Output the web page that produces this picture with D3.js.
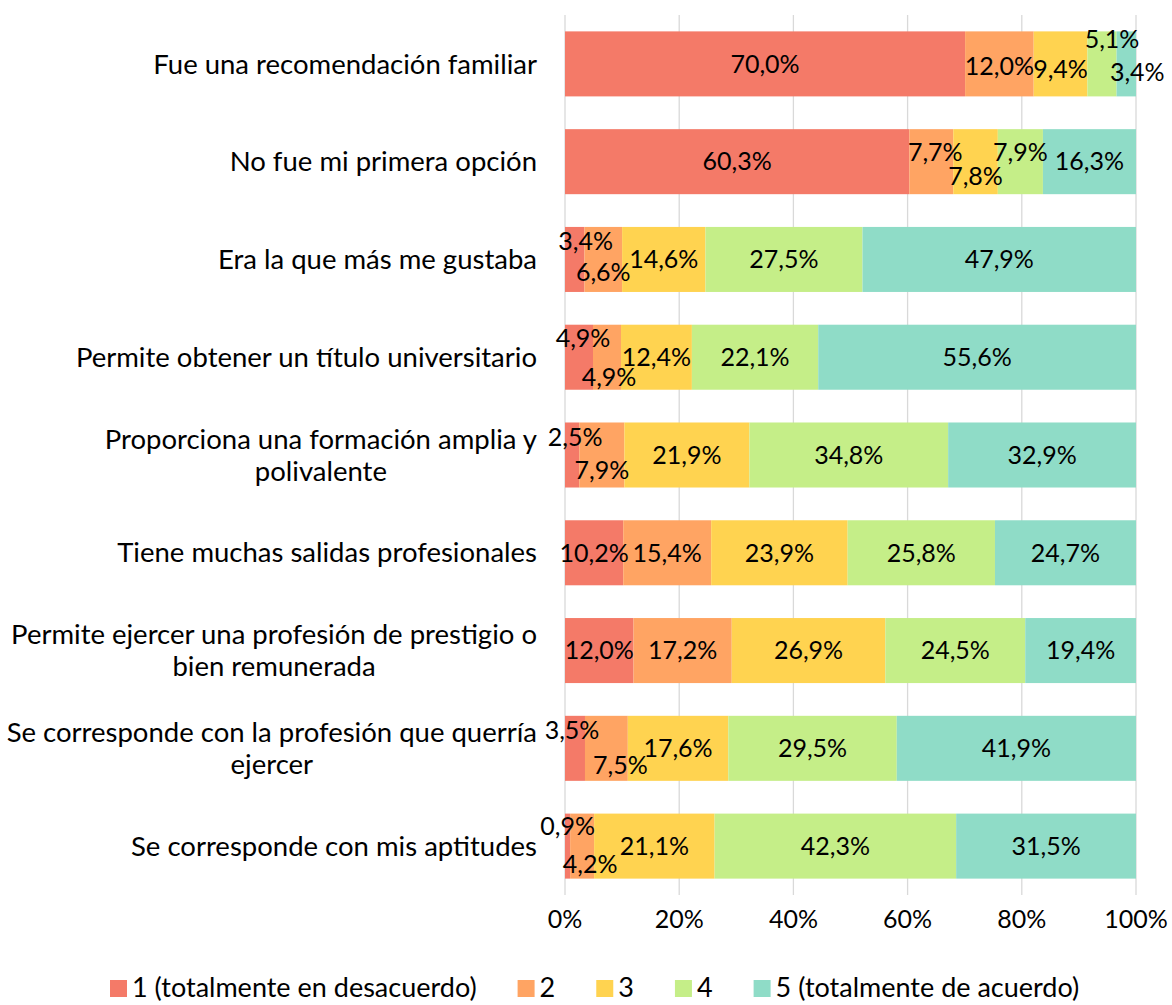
<!DOCTYPE html>
<html>
<head>
<meta charset="utf-8">
<script src="https://cdn.jsdelivr.net/npm/d3@7"></script>
<style>
  body { margin: 0; background: #fff; }
  text { font-family: Lato, "Noto Sans", sans-serif; fill: #000; }
</style>
</head>
<body>
<div id="chart"></div>
<script>
// Chart data
var categories = [
  "Fue una recomendación familiar",
  "No fue mi primera opción",
  "Era la que más me gustaba",
  "Permite obtener un título universitario",
  "Proporciona una formación amplia y\npolivalente",
  "Tiene muchas salidas profesionales",
  "Permite ejercer una profesión de prestigio o\nbien remunerada",
  "Se corresponde con la profesión que querría\nejercer",
  "Se corresponde con mis aptitudes"
];
var seriesNames = ["1 (totalmente en desacuerdo)", "2", "3", "4", "5 (totalmente de acuerdo)"];
var s1 = [70.0, 60.3, 3.4, 4.9, 2.5, 10.2, 12.0, 3.5, 0.9];
var s2 = [12.0, 7.7, 6.6, 4.9, 7.9, 15.4, 17.2, 7.5, 4.2];
var s3 = [9.4, 7.8, 14.6, 12.4, 21.9, 23.9, 26.9, 17.6, 21.1];
var s4 = [5.1, 7.9, 27.5, 22.1, 34.8, 25.8, 24.5, 29.5, 42.3];
var s5 = [3.4, 16.3, 47.9, 55.6, 32.9, 24.7, 19.4, 41.9, 31.5];
var xTicks = [0, 0.2, 0.4, 0.6, 0.8, 1];

var colors = ["#F47A68", "#FFA463", "#FFD350", "#C5EE88", "#8FDCC7"];

// manual nudges of overlapping data labels  "row-series": [dx, dy]
var labelNudge = {
  "0-1": [0, 2], "0-2": [0, 5], "0-3": [10, -25], "0-4": [11, 8],
  "1-1": [4, -9], "1-2": [0, 15], "1-3": [0, -9],
  "2-0": [11, -18], "2-1": [0, 13],
  "3-0": [4, -19], "3-1": [2, 20],
  "4-0": [3, -18], "4-1": [0, 15],
  "7-0": [-3, -18], "7-1": [14, 17],
  "8-0": [0, -20], "8-1": [8, 18]
};

var svgWidth = 1172;
var svgHeight = 1005;
var margin = { top: 15, right: 36, bottom: 110, left: 565 };
var width = svgWidth - margin.left - margin.right;
var height = svgHeight - margin.top - margin.bottom;

var svg = d3.select("#chart").append("svg")
  .attr("width", svgWidth)
  .attr("height", svgHeight);

var chartGroup = svg.append("g")
  .attr("transform", `translate(${margin.left}, ${margin.top})`);

// build rows for stack
var allSeries = [s1, s2, s3, s4, s5];
var rows = categories.map((c, i) => {
  var r = { cat: c };
  allSeries.forEach((s, j) => r["k" + j] = s[i]);
  return r;
});
var keys = allSeries.map((s, j) => "k" + j);
var stacked = d3.stack().keys(keys).offset(d3.stackOffsetExpand)(rows);

var xScale = d3.scaleLinear().domain([0, 1]).range([0, width]);
var yScale = d3.scaleBand().domain(categories).range([0, height])
  .paddingInner(0.335).paddingOuter(0.1675);

// gridlines
chartGroup.append("g")
  .selectAll("line")
  .data(xTicks)
  .enter()
  .append("line")
  .attr("x1", d => xScale(d))
  .attr("x2", d => xScale(d))
  .attr("y1", 0)
  .attr("y2", height)
  .attr("stroke", "#d9d9d9")
  .attr("stroke-width", 1.3);

// bars
var layers = chartGroup.selectAll(".layer")
  .data(stacked)
  .enter()
  .append("g")
  .attr("fill", (d, i) => colors[i]);

layers.selectAll("rect")
  .data(d => d)
  .enter()
  .append("rect")
  .attr("x", d => xScale(d[0]))
  .attr("y", d => yScale(d.data.cat))
  .attr("width", d => xScale(d[1]) - xScale(d[0]))
  .attr("height", yScale.bandwidth());

// data labels
var fmt = v => v.toFixed(1).replace(".", ",") + "%";
stacked.forEach((layer, j) => {
  layer.forEach((d, i) => {
    var nud = labelNudge[i + "-" + j] || [0, 0];
    chartGroup.append("text")
      .attr("x", xScale((d[0] + d[1]) / 2) + nud[0])
      .attr("y", yScale(d.data.cat) + yScale.bandwidth() / 2 + nud[1])
      .attr("dy", "0.35em")
      .attr("text-anchor", "middle")
      .attr("font-size", "25px")
      .text(fmt(allSeries[j][i]));
  });
});

// category labels
categories.forEach(c => {
  var lines = c.split("\n");
  var cy = yScale(c) + yScale.bandwidth() / 2;
  var g = chartGroup.append("g");
  var lh = 32;
  var texts = lines.map((ln, k) => g.append("text")
    .attr("y", cy + (k - (lines.length - 1) / 2) * lh)
    .attr("dy", "0.35em")
    .attr("font-size", "27.5px")
    .text(ln));
  var w = d3.max(texts, t => t.node().getComputedTextLength());
  texts.forEach(t => t.attr("text-anchor", "middle").attr("x", -28 - w / 2));
});

// x axis tick labels
chartGroup.append("g")
  .selectAll("text")
  .data(xTicks)
  .enter()
  .append("text")
  .attr("x", d => xScale(d))
  .attr("y", height + 24)
  .attr("dy", "0.35em")
  .attr("text-anchor", "middle")
  .attr("font-size", "25px")
  .text(d => d3.format(".0%")(d));

// legend
var legend = svg.append("g").attr("transform", "translate(110, 988)");
var lx = 0;
seriesNames.forEach((n, i) => {
  legend.append("rect")
    .attr("x", lx).attr("y", -8)
    .attr("width", 17).attr("height", 17)
    .attr("fill", colors[i]);
  var t = legend.append("text")
    .attr("x", lx + 22).attr("y", 0)
    .attr("dy", "0.35em")
    .attr("font-size", "27px")
    .text(n);
  lx += 22 + t.node().getComputedTextLength() + 41;
});
</script>
</body>
</html>
